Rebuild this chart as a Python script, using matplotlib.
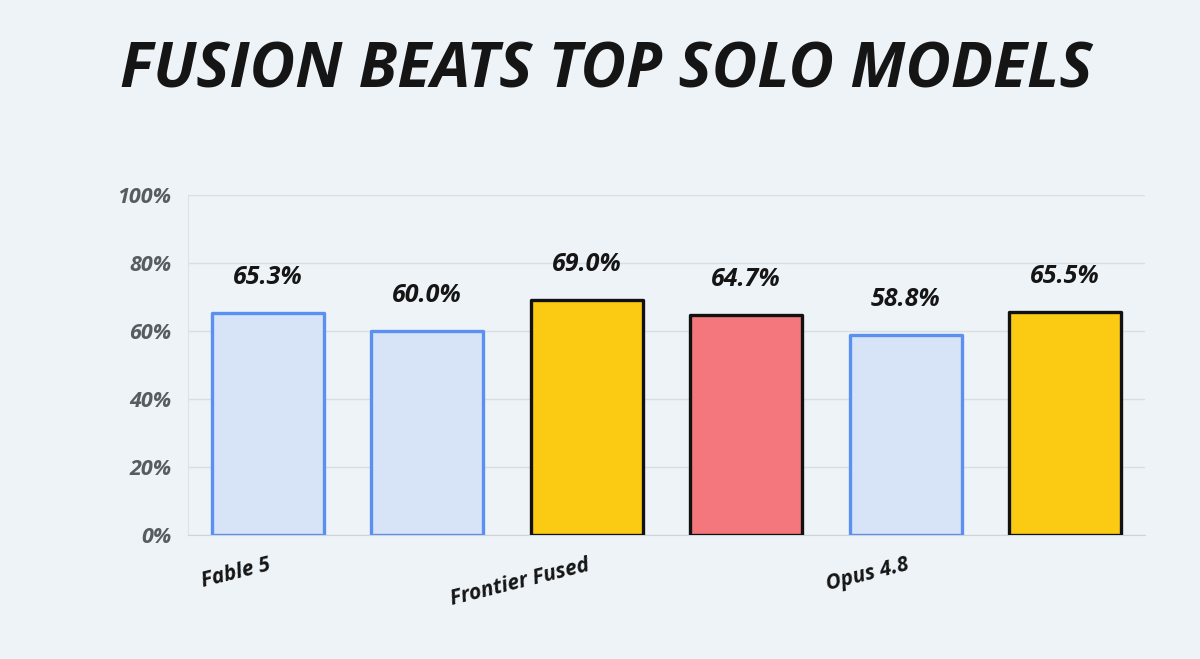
import matplotlib
matplotlib.use("Agg")
import matplotlib.pyplot as plt
import numpy as np

# data
values = [65.3, 60.0, 69.0, 64.7, 58.8, 65.5]
fills = ["#d7e4f8", "#d7e4f8", "#fbcb14", "#f5777e", "#d7e4f8", "#fbcb14"]
edges = ["#5b8ff0", "#5b8ff0", "#111111", "#111111", "#5b8ff0", "#111111"]
tick_pos = [0, 2, 4]
tick_labels = ["Fable 5", "Frontier Fused", "Opus 4.8"]
yticks = [0, 20, 40, 60, 80, 100]

bg = "#edf3f7"
fig = plt.figure(figsize=(12, 6.59), dpi=100, facecolor=bg)
ax = fig.add_axes([0.1567, 0.188, 0.7975, 0.516], facecolor=bg)

x = np.arange(len(values))
bars = ax.bar(x, values, width=0.7, color=fills, edgecolor=edges, linewidth=2.4, zorder=3)
for b in bars:
    b.set_joinstyle("round")

for xi, v in zip(x, values):
    ax.text(xi, v + 10.5, f"{v:.1f}%", ha="center", va="center", fontsize=18,
            fontfamily="Open Sans", fontweight="bold", fontstyle="italic", color="#151515")

ax.set_xlim(-0.5, len(values) - 0.5)
ax.set_ylim(0, 100)
ax.set_yticks(yticks)
ax.set_yticklabels([f"{t}%" for t in yticks], fontsize=15.5, fontfamily="Open Sans",
                   fontweight="bold", fontstyle="italic", color="#575c61")
ax.set_xticks(tick_pos)
ax.set_xticklabels(tick_labels, rotation=14, ha="right", rotation_mode="anchor",
                   fontsize=15, fontfamily="Open Sans", fontweight="bold",
                   fontstyle="italic", color="#151515")
ax.tick_params(axis="both", length=0)
ax.tick_params(axis="x", pad=14)
ax.tick_params(axis="y", pad=12)

ax.grid(axis="y", color="#d9dee3", linewidth=1, zorder=0)
for s in ["top", "right"]:
    ax.spines[s].set_visible(False)
ax.spines["left"].set_color("#dde2e6")
ax.spines["bottom"].set_color("#cfd4d8")

fig.text(0.505, 0.893, "FUSION BEATS TOP SOLO MODELS", ha="center", va="center",
         fontsize=45, fontfamily="Open Sans", fontweight="bold", fontstyle="italic",
         color="#151515")

fig.savefig("out.png", dpi=100, facecolor=bg)
